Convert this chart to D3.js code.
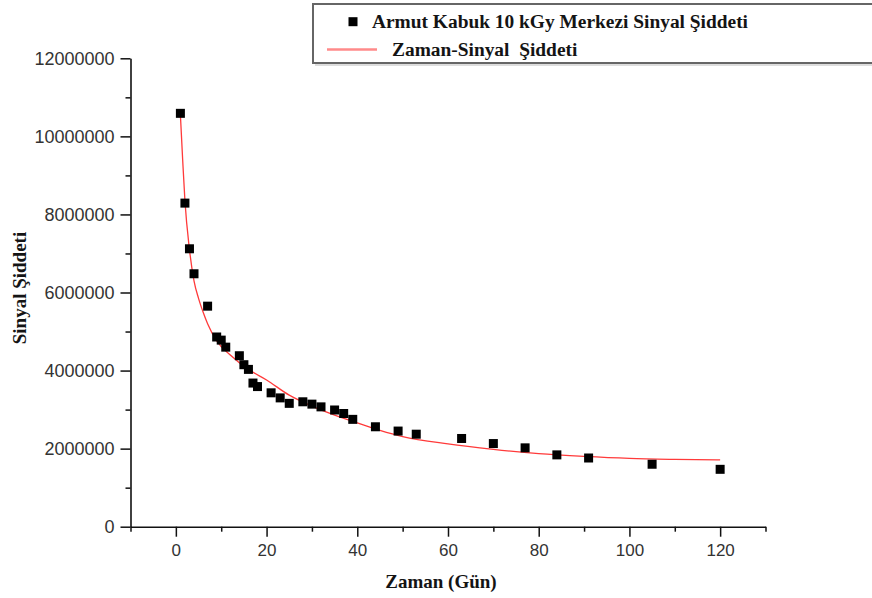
<!DOCTYPE html>
<html>
<head>
<meta charset="utf-8">
<script src="https://cdn.jsdelivr.net/npm/d3@7"></script>
<style>
  html, body { margin: 0; padding: 0; background: #fff; }
  svg { display: block; }
  .tick-label { font-family: "Liberation Sans", Arial, sans-serif; fill: #333; }
  .title { font-family: "Liberation Serif", "Times New Roman", serif; font-weight: bold; fill: #141414; }
</style>
</head>
<body>
<svg id="chart" width="872" height="598"></svg>
<script>
// Measured signal intensity (Armut Kabuk, 10 kGy, central line) by storage day
const days = [1, 2, 3, 4, 7, 9, 10, 11, 14, 15, 16, 17, 18, 21, 23, 25, 28, 30, 32, 35, 37, 39, 44, 49, 53, 63, 70, 77, 84, 91, 105, 120];
const signal = [10590000, 8290000, 7120000, 6480000, 5650000, 4860000, 4780000, 4600000, 4380000, 4150000, 4030000, 3680000, 3590000, 3430000, 3300000, 3160000, 3200000, 3140000, 3070000, 2990000, 2900000, 2750000, 2560000, 2450000, 2370000, 2260000, 2130000, 2020000, 1840000, 1760000, 1600000, 1470000];

// Fitted time–signal curve, sampled along its length
const fitDays = [1, 1.5, 2, 3, 4, 5, 6, 7, 9, 12, 16, 20, 25, 30, 35, 40, 45, 50, 60, 70, 80, 90, 100, 110, 120];
const fitSignal = [10550000, 9400000, 8350000, 7100000, 6300000, 5850000, 5500000, 5200000, 4760000, 4400000, 4030000, 3760000, 3370000, 3090000, 2860000, 2660000, 2470000, 2310000, 2120000, 1980000, 1870000, 1800000, 1750000, 1725000, 1710000];

// Axis ticks
const xMajor = [0, 20, 40, 60, 80, 100, 120];
const xMinor = [-10, 10, 30, 50, 70, 90, 110, 130];
const yMajor = [0, 2000000, 4000000, 6000000, 8000000, 10000000, 12000000];
const yMinor = [1000000, 3000000, 5000000, 7000000, 9000000, 11000000];

const legendLabels = ["Armut Kabuk 10 kGy Merkezi Sinyal Şiddeti", "Zaman-Sinyal  Şiddeti"];
const xTitle = "Zaman (Gün)";
const yTitle = "Sinyal Şiddeti";

const svg = d3.select("#chart");

const x = d3.scaleLinear().domain([-10, 130]).range([130.5, 765.5]);
const y = d3.scaleLinear().domain([0, 12000000]).range([526.7, 58.3]);

// ---- axes ----
function styleAxis(g) {
  g.selectAll("path.domain").attr("stroke", "#111").attr("stroke-width", 1.6);
  g.selectAll(".tick line").attr("stroke", "#111").attr("stroke-width", 1.5);
}

const xAxisG = svg.append("g").attr("transform", `translate(0,${y(0)})`);
xAxisG.call(d3.axisBottom(x).tickValues(xMajor).tickSize(10).tickSizeOuter(0).tickPadding(7).tickFormat(d3.format("d")));
xAxisG.selectAll("text").attr("class", "tick-label").attr("font-size", 17).attr("font-family", null).attr("fill", null);
styleAxis(xAxisG);
const xMinorG = svg.append("g").attr("transform", `translate(0,${y(0)})`);
xMinorG.call(d3.axisBottom(x).tickValues(xMinor).tickSize(5).tickFormat(""));
xMinorG.select("path.domain").remove();
styleAxis(xMinorG);

const yAxisG = svg.append("g").attr("transform", `translate(${x(-10)},0)`);
yAxisG.call(d3.axisLeft(y).tickValues(yMajor).tickSize(10).tickSizeOuter(0).tickPadding(6).tickFormat(d3.format("d")));
yAxisG.selectAll("text").attr("class", "tick-label").attr("font-size", 18).attr("font-family", null).attr("fill", null);
styleAxis(yAxisG);
const yMinorG = svg.append("g").attr("transform", `translate(${x(-10)},0)`);
yMinorG.call(d3.axisLeft(y).tickValues(yMinor).tickSize(5).tickFormat(""));
yMinorG.select("path.domain").remove();
styleAxis(yMinorG);

// ---- axis titles ----
svg.append("text").attr("class", "title")
  .attr("x", 441).attr("y", 588)
  .attr("text-anchor", "middle").attr("font-size", 19)
  .text(xTitle);

svg.append("text").attr("class", "title")
  .attr("transform", "translate(26,288) rotate(-90)")
  .attr("text-anchor", "middle").attr("font-size", 19)
  .text(yTitle);

// ---- fitted curve ----
const fitData = fitDays.map((d, i) => [d, fitSignal[i]]);
svg.append("path")
  .datum(fitData)
  .attr("fill", "none")
  .attr("stroke", "#ff3a3a")
  .attr("stroke-width", 1.3)
  .attr("d", d3.line().x(d => x(d[0])).y(d => y(d[1])).curve(d3.curveMonotoneX));

// ---- measured points ----
const sq = 9;
svg.append("g").selectAll("rect")
  .data(days.map((d, i) => [d, signal[i]]))
  .join("rect")
  .attr("x", d => x(d[0]) - sq / 2)
  .attr("y", d => y(d[1]) - sq / 2)
  .attr("width", sq).attr("height", sq)
  .attr("fill", "#000");

// ---- legend ----
const legend = svg.append("g");
legend.append("rect")
  .attr("x", 315).attr("y", 6).attr("width", 600).attr("height", 60)
  .attr("fill", "#ddd");
legend.append("rect")
  .attr("x", 313).attr("y", 4).attr("width", 600).attr("height", 59)
  .attr("fill", "#fff").attr("stroke", "#666").attr("stroke-width", 2);
legend.append("rect")
  .attr("x", 353 - sq / 2).attr("y", 21.7 - sq / 2).attr("width", sq).attr("height", sq)
  .attr("fill", "#000");
legend.append("line")
  .attr("x1", 327).attr("x2", 377).attr("y1", 49.5).attr("y2", 49.5)
  .attr("stroke", "#ff8a8a").attr("stroke-width", 2.5);
legend.append("text").attr("class", "title")
  .attr("x", 372).attr("y", 28).attr("font-size", 19.4)
  .text(legendLabels[0]);
legend.append("text").attr("class", "title")
  .attr("x", 392).attr("y", 56).attr("font-size", 19.4)
  .style("white-space", "pre")
  .text(legendLabels[1]);
</script>
</body>
</html>
